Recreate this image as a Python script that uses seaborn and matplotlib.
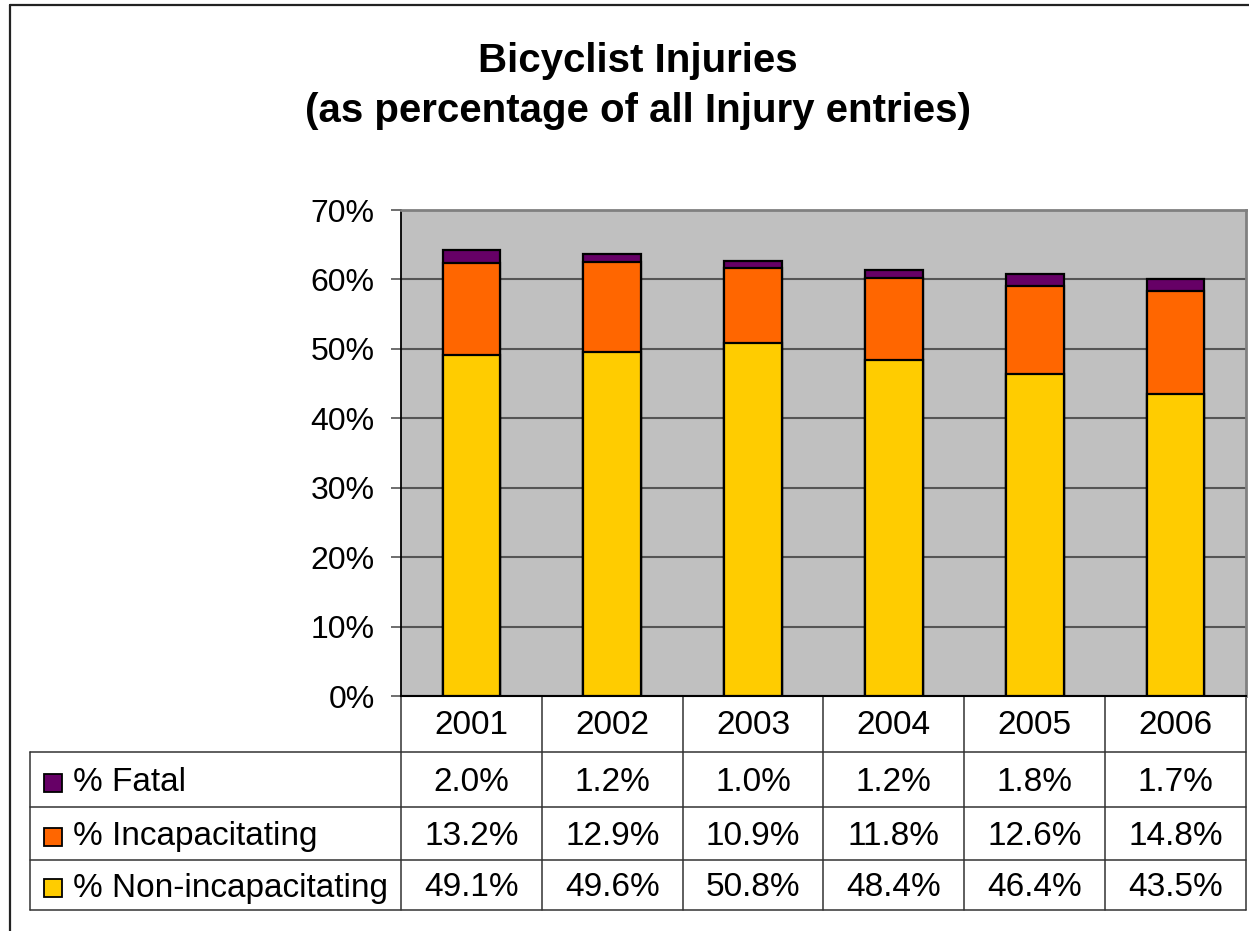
import matplotlib
matplotlib.use("Agg")
import matplotlib.pyplot as plt
import seaborn as sns
import pandas as pd
from matplotlib.lines import Line2D
from matplotlib.patches import Rectangle

# ---- data ----
years = ["2001", "2002", "2003", "2004", "2005", "2006"]
fatal = [2.0, 1.2, 1.0, 1.2, 1.8, 1.7]
incap = [13.2, 12.9, 10.9, 11.8, 12.6, 14.8]
noninc = [49.1, 49.6, 50.8, 48.4, 46.4, 43.5]
series_labels = ["% Fatal", "% Incapacitating", "% Non-incapacitating"]
yticks = [0, 10, 20, 30, 40, 50, 60, 70]
title = "Bicyclist Injuries\n(as percentage of all Injury entries)"

C_FATAL = "#660066"
C_INCAP = "#FF6600"
C_NONINC = "#FFCC00"

sns.set_theme(style="white")
plt.rcParams["font.family"] = ["Liberation Sans", "DejaVu Sans"]

W, H = 1249, 931
fig = plt.figure(figsize=(W / 100, H / 100), dpi=100)
fig.patch.set_facecolor("white")

L, R, T, B = 401, 1246, 210, 696
ax = fig.add_axes([L / W, 1 - B / H, (R - L) / W, (B - T) / H])

df = pd.DataFrame({"year": years, "fatal": fatal, "incap": incap, "noninc": noninc})
df["top"] = df["fatal"] + df["incap"] + df["noninc"]
df["mid"] = df["incap"] + df["noninc"]

for col, c in [("top", C_FATAL), ("mid", C_INCAP), ("noninc", C_NONINC)]:
    sns.barplot(data=df, x="year", y=col, color=c, saturation=1, width=0.41,
                edgecolor="black", linewidth=1.6, ax=ax, zorder=3)

ax.set_xlim(-0.5, 5.5)
ax.set_ylim(0, 70)
ax.set_facecolor("#C0C0C0")
ax.set_yticks(yticks)
ax.set_yticklabels([f"{v}%" for v in yticks], fontsize=23)
ax.set_xticks([])
ax.set_xlabel("")
ax.set_ylabel("")
ax.yaxis.grid(True, color="#555555", linewidth=1.5, zorder=1)
ax.set_axisbelow(True)
ax.tick_params(axis="y", left=True, length=7, width=1.2, color="#555555", pad=12, labelcolor="black")
for s in ["top", "right"]:
    ax.spines[s].set_color("#808080")
    ax.spines[s].set_linewidth(2)
ax.spines["left"].set_color("black")
ax.spines["left"].set_linewidth(1.3)
ax.spines["bottom"].set_color("black")
ax.spines["bottom"].set_linewidth(1.5)

# ---- data table ----
axh = B - T
axw = R - L
row_px = [696, 752, 807, 860, 910]
row_y = [(B - p) / axh for p in row_px]
x_left = (30 - L) / axw
xt = ax.get_xaxis_transform()
lc = "#333333"
for yy in row_y[1:]:
    ax.add_line(Line2D([x_left, 1.0], [yy, yy], transform=ax.transAxes, color=lc,
                       linewidth=1.1, clip_on=False))
for i in range(len(years) + 1):
    xv = i - 0.5
    ax.add_line(Line2D([xv, xv], [0, row_y[-1]], transform=xt, color=lc,
                       linewidth=1.1, clip_on=False))
ax.add_line(Line2D([x_left, x_left], [row_y[1], row_y[-1]], transform=ax.transAxes,
                   color=lc, linewidth=1.1, clip_on=False))

fs = 24
for i, yr in enumerate(years):
    ax.text(i, (row_y[0] + row_y[1]) / 2 - 2 / axh, yr, transform=xt, ha="center", va="center",
            fontsize=fs, color="black", clip_on=False)

rows = [(series_labels[0], fatal, C_FATAL),
        (series_labels[1], incap, C_INCAP),
        (series_labels[2], noninc, C_NONINC)]
sq_w = 18 / axw
sq_h = 18 / axh
for r, (lab, vals, c) in enumerate(rows):
    yc = (row_y[r + 1] + row_y[r + 2]) / 2 - 3 / axh
    for i, v in enumerate(vals):
        ax.text(i, yc, f"{v:.1f}%", transform=xt, ha="center", va="center",
                fontsize=fs, color="black", clip_on=False)
    ax.add_patch(Rectangle(((44 - L) / axw, yc - sq_h / 2), sq_w, sq_h, transform=ax.transAxes,
                           facecolor=c, edgecolor="black", linewidth=1.3, clip_on=False))
    ax.text((73 - L) / axw, yc, lab, transform=ax.transAxes, ha="left", va="center",
            fontsize=fs, color="black", clip_on=False)

# ---- title ----
fig.text(638 / W, 1 - 86 / H, title, ha="center", va="center", fontsize=29,
         fontweight="bold", linespacing=1.38, color="black")

# ---- chart-area border (top and left visible) ----
fig.add_artist(Line2D([10 / W, 1.0], [1 - 5 / H, 1 - 5 / H], transform=fig.transFigure,
                      color="#222222", linewidth=1.6))
fig.add_artist(Line2D([10 / W, 10 / W], [0, 1 - 5 / H], transform=fig.transFigure,
                      color="#222222", linewidth=1.6))

fig.savefig("out.png", dpi=100, facecolor="white")
